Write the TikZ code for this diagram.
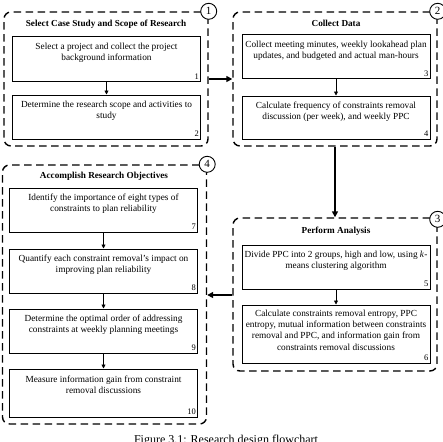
\documentclass[tikz,border=0pt]{standalone}
\usepackage{fontspec}
\setmainfont{Liberation Serif}
\usetikzlibrary{positioning,arrows.meta}

\begin{document}
\begin{tikzpicture}[x=1pt, y=-1pt,
  every node/.style={font=\fontsize{9.3}{11.3}\selectfont},
  group/.style={draw, rounded corners=7pt, line width=1.4pt, dash pattern=on 7.5pt off 4.5pt, minimum width=204, inner sep=0pt},
  task/.style={draw, line width=1pt, minimum width=188, inner sep=0pt},
  txt/.style={align=center, inner sep=0pt},
  num/.style={inner sep=0pt, font=\fontsize{8.5}{9}\selectfont},
  ttl/.style={font=\fontsize{9.2}{10}\selectfont\bfseries, inner sep=0pt},
  badge/.style={circle, draw, fill=white, line width=0.9pt, minimum size=16pt, inner sep=0pt, font=\fontsize{11}{11}\selectfont},
  substep/.style={-{Triangle[length=4pt, width=4pt]}, line width=0.8pt},
  flow/.style={-{Triangle[length=6pt, width=6pt]}, line width=1.8pt}]
  \useasboundingbox (0,0) rectangle (443,441);
  % Group 1: case study and scope
  \node[group, minimum height=134] (g1) at (106,79) {};
  \node[badge] (m1) at (g1.north east) {1};
  \node[ttl] (h1) at (106,24) {Select Case Study and Scope of Research};
  \node[task, minimum height=45] (b1) at (106.5,59.5) {};
  \node[txt, below=6pt of b1.north] {Select a project and collect the project\\background information};
  \node[num, above left=3pt and 2pt of b1.south east] {1};
  \node[task, minimum height=44] (b2) at (106.5,117) {};
  \node[txt, below=6pt of b2.north] {Determine the research scope and activities to\\study};
  \node[num, above left=3pt and 2pt of b2.south east] {2};
  \draw[substep] (b1) -- (b2);
  % Group 2: data collection
  \node[group, minimum height=134] (g2) at (335,79) {};
  \node[badge] (m2) at (g2.north east) {2};
  \node[ttl] (h2) at (336,23) {Collect Data};
  \node[task, minimum height=44] (b3) at (336,57) {};
  \node[txt, below=6pt of b3.north] {Collect meeting minutes, weekly lookahead plan\\updates, and budgeted and actual man-hours};
  \node[num, above left=3pt and 2pt of b3.south east] {3};
  \node[task, minimum height=43] (b4) at (336,117.5) {};
  \node[txt, below=6pt of b4.north] {Calculate frequency of constraints removal\\discussion (per week), and weekly PPC};
  \node[num, above left=3pt and 2pt of b4.south east] {4};
  \draw[substep] (b3) -- (b4);
  % Group 3: analysis
  \node[group, minimum height=153] (g3) at (335,294.5) {};
  \node[badge] (m3) at ([yshift=-2pt]g3.north east) {3};
  \node[ttl] (h3) at (336,231) {Perform Analysis};
  \node[task, minimum height=44] (b5) at (336,267) {};
  \node[txt, below=6pt of b5.north] {Divide PPC into 2 groups, high and low, using \emph{k}-\\means clustering algorithm};
  \node[num, above left=3pt and 2pt of b5.south east] {5};
  \node[task, minimum height=58] (b6) at (336,334) {};
  \node[txt, below=5pt of b6.north] {Calculate constraints removal entropy, PPC\\entropy, mutual information between constraints\\removal and PPC, and information gain from\\constraints removal discussions};
  \node[num, above left=3pt and 2pt of b6.south east] {6};
  \draw[substep] (b5) -- (b6);
  % Group 4: objectives
  \node[group, minimum height=259] (g4) at (104.5,294.5) {};
  \node[badge] (m4) at (g4.north east) {4};
  \node[ttl] (h4) at (104,176) {Accomplish Research Objectives};
  \node[task, minimum height=44] (b7) at (103.5,210) {};
  \node[txt, below=6pt of b7.north] {Identify the importance of eight types of\\constraints to plan reliability};
  \node[num, above left=3pt and 2pt of b7.south east] {7};
  \node[task, minimum height=44] (b8) at (103.5,271) {};
  \node[txt, below=6pt of b8.north] {Quantify each constraint removal's impact on\\improving plan reliability};
  \node[num, above left=3pt and 2pt of b8.south east] {8};
  \node[task, minimum height=44] (b9) at (103.5,331) {};
  \node[txt, below=6pt of b9.north] {Determine the optimal order of addressing\\constraints at weekly planning meetings};
  \node[num, above left=3pt and 2pt of b9.south east] {9};
  \node[task, minimum height=48] (b10) at (103.5,393) {};
  \node[txt, below=7pt of b10.north] {Measure information gain from constraint\\removal discussions};
  \node[num, above left=3pt and 2pt of b10.south east] {10};
  \draw[substep] (b7) -- (b8);
  \draw[substep] (b8) -- (b9);
  \draw[substep] (b9) -- (b10);
  % Flow between groups
  \draw[flow] (g1.east |- 0,79) -- (g2.west |- 0,79);
  \draw[flow] (g2.south) -- (g3.north);
  \draw[flow] (g3.west |- 0,295) -- (g4.east |- 0,295);
  % Caption (cut by the page edge)
  \node[inner sep=0pt, anchor=north, font=\fontsize{12}{12}\selectfont] (cap) at (226,435) {Figure 3.1: Research design flowchart};
\end{tikzpicture}
\end{document}
